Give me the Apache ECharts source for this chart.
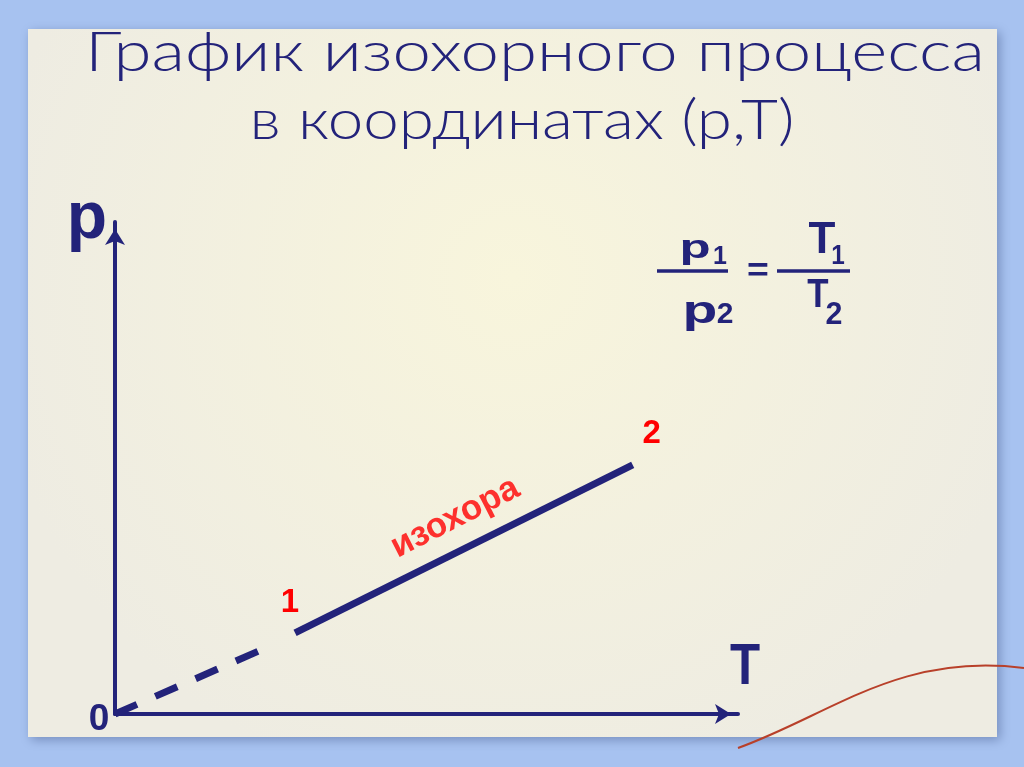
<!DOCTYPE html>
<html><head><meta charset="utf-8">
<script src="https://cdn.jsdelivr.net/npm/echarts@6/dist/echarts.min.js"></script>
<style>html,body{margin:0;padding:0;background:#a7c2f0;}#c{width:1024px;height:767px;}</style>
</head><body><div id="c"></div>
<script>
// Data (T, p) in arbitrary units
var dashedPart = [[0, 0], [2.41, 1.07]];      // extrapolation to origin
var isochore = [[2.89, 1.32], [8.31, 4.05]];  // states 1 -> 2
var pointNames = ['1', '2'];
var lineLabel = {name: 'изохора', value: [5.46, 3.19]};
var titleLines = ['График изохорного процесса', 'в координатах (p,T)'];

var navy = '#23237a';
var red = '#ff0000';
var chart = echarts.init(document.getElementById('c'));

var titleFont = '300 55px Lato, "DejaVu Sans", sans-serif';
var ctx = document.createElement('canvas').getContext('2d');
ctx.font = titleFont;
var w1 = ctx.measureText(titleLines[0]).width;
var w2 = ctx.measureText(titleLines[1]).width;

var B = 'bold {s}px "Liberation Sans", sans-serif';
function f(s) { return B.replace('{s}', s); }
function txt(t, x, y, size, sx, va) {
  return {type: 'text', x: x, y: y, scaleX: sx || 1,
    style: {text: t, fill: navy, align: 'center', verticalAlign: va || 'bottom', font: f(size)}};
}

var option = {
  backgroundColor: '#a7c2f0',
  animation: false,
  grid: {left: 115, top: 222, width: 623, height: 492, containLabel: false},
  xAxis: {
    type: 'value', min: 0, max: 10,
    axisLine: {show: true, symbol: ['none', 'arrow'], symbolSize: [15, 16], symbolOffset: [0, -7],
      lineStyle: {color: navy, width: 4}},
    axisTick: {show: false}, axisLabel: {show: false}, splitLine: {show: false}
  },
  yAxis: {
    type: 'value', min: 0, max: 8,
    axisLine: {show: true, symbol: ['none', 'arrow'], symbolSize: [15, 16], symbolOffset: [0, -7],
      lineStyle: {color: navy, width: 4}},
    axisTick: {show: false}, axisLabel: {show: false}, splitLine: {show: false}
  },
  graphic: [
    {type: 'rect', z: -10, silent: true, shape: {x: 28, y: 29, width: 969, height: 708},
      style: {fill: new echarts.graphic.RadialGradient(0.5, 0.35, 0.75, [
        {offset: 0, color: '#f8f5dc'}, {offset: 1, color: '#eeece2'}]),
        shadowBlur: 10, shadowColor: 'rgba(60,80,130,0.45)', shadowOffsetX: 3, shadowOffsetY: 3}},
    {type: 'bezierCurve', z: -5, silent: true,
      shape: {x1: 738, y1: 748, x2: 1024, y2: 668, cpx1: 830, cpy1: 715, cpx2: 900, cpy2: 652},
      style: {stroke: '#b8402a', lineWidth: 2, fill: null}},
    {type: 'text', x: 535, y: 53, scaleX: 900 / w1,
      style: {text: titleLines[0], fill: navy, align: 'center', verticalAlign: 'middle', font: titleFont}},
    {type: 'text', x: 522, y: 121, scaleX: 545 / w2,
      style: {text: titleLines[1], fill: navy, align: 'center', verticalAlign: 'middle', font: titleFont}},
    txt('p', 87, 253, 66, 1.0),
    txt('T', 745, 697, 58, 0.85),
    txt('0', 99, 738, 37, 1.0),
    // formula p1/p2 = T1/T2
    txt('p', 695, 266, 34, 1.5),
    txt('1', 720, 270, 25, 1.0),
    {type: 'line', shape: {x1: 657, y1: 271, x2: 728, y2: 271}, style: {stroke: navy, lineWidth: 3.5}},
    txt('p', 700, 332, 38, 1.5),
    txt('2', 725, 330, 30, 1.0),
    txt('=', 758, 272, 34, 1.1, 'middle'),
    {type: 'line', shape: {x1: 777, y1: 271, x2: 850, y2: 271}, style: {stroke: navy, lineWidth: 3.5}},
    txt('T', 822, 263, 44, 1.0),
    txt('1', 838, 270, 27, 0.9),
    txt('T', 818, 316, 41, 0.85),
    txt('2', 834, 331, 32, 0.95)
  ],
  series: [
    {type: 'line', data: dashedPart, symbol: 'none', silent: true,
      lineStyle: {color: navy, width: 7, type: [24, 20], cap: 'butt'}},
    {type: 'line', data: isochore.map(function (d, i) {
        return {value: d, label: {show: true, formatter: pointNames[i],
          offset: i === 0 ? [-5, -8] : [19, -10]}};
      }),
      symbol: 'circle', symbolSize: 0, showSymbol: true, silent: true,
      lineStyle: {color: navy, width: 7},
      label: {position: 'top', color: red, fontSize: 33, fontWeight: 'bold', fontFamily: 'Liberation Sans'}},
    {type: 'scatter', data: [lineLabel], symbolSize: 0, silent: true,
      label: {show: true, position: 'inside', formatter: '{b}', rotate: 27, color: red,
        fontSize: 35, fontWeight: 'bold', fontFamily: 'Liberation Sans'}}
  ]
};
chart.setOption(option);
</script></body></html>
